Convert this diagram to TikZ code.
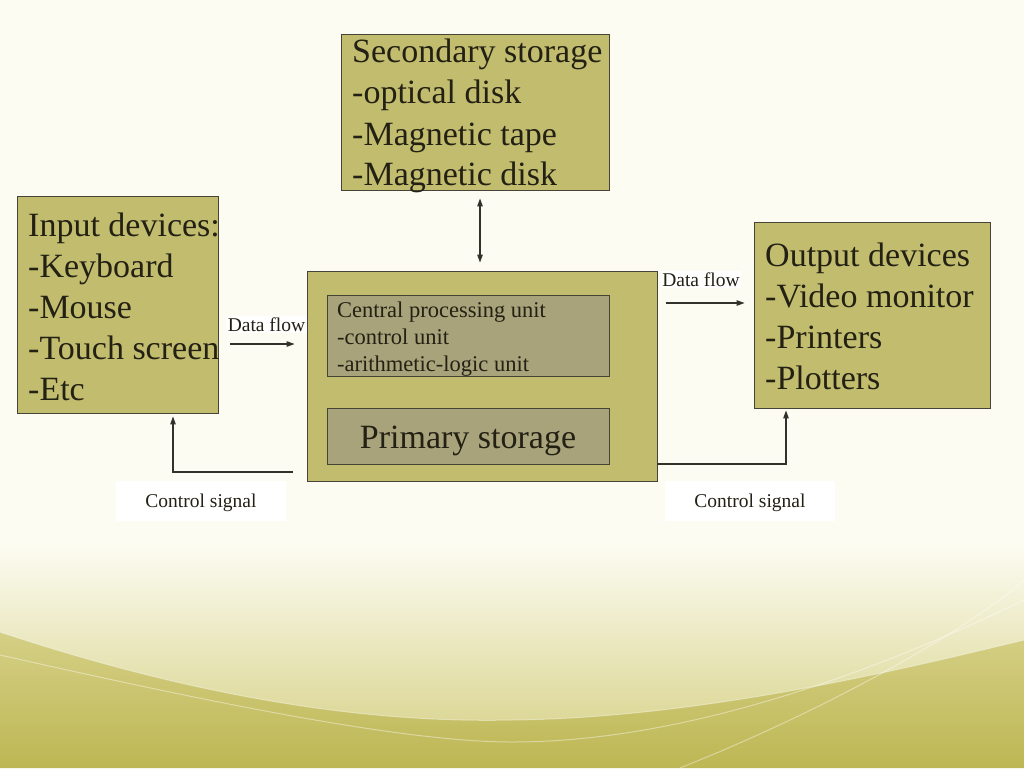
\documentclass[tikz,border=0pt]{standalone}
\usepackage{fontspec}
\setmainfont{Liberation Serif}
\usetikzlibrary{arrows.meta,calc}
\definecolor{crm}{RGB}{252,252,242}
\definecolor{olvbg}{RGB}{189,183,84}
\definecolor{midolv}{RGB}{213,207,134}
\definecolor{lightolv}{RGB}{220,215,150}
\definecolor{boxfill}{RGB}{194,188,110}
\definecolor{innerfill}{RGB}{168,163,122}
\definecolor{edge}{RGB}{70,68,55}
\definecolor{txtc}{RGB}{35,32,20}
\definecolor{arrc}{RGB}{50,50,45}
\begin{document}
\begin{tikzpicture}[x=1pt,y=-1pt,
  box/.style={draw=edge, line width=0.9pt, fill=boxfill, inner sep=0pt},
  innerbox/.style={draw=edge, line width=0.9pt, fill=innerfill, inner sep=0pt},
  bigtxt/.style={text=txtc, inner sep=0pt, anchor=base west, font=\fontsize{34}{41}\selectfont},
  midtxt/.style={text=txtc, inner sep=0pt, anchor=base west, font=\fontsize{22.5}{27}\selectfont},
  smalltxt/.style={text=txtc, font=\fontsize{19.5}{23}\selectfont},
  bgline/.style={white, opacity=0.4, line width=1pt},
  arr/.style={draw=arrc, line width=1.1pt, -{Triangle[length=8pt,width=5.5pt]}},
  darr/.style={draw=arrc, line width=1.1pt, {Triangle[length=8pt,width=5.5pt]}-{Triangle[length=8pt,width=5.5pt]}}
]
\useasboundingbox (0,0) rectangle (1024,768);
% background
\fill[crm] (0,0) rectangle (1024,768);
\shade[top color=crm, bottom color=lightolv] (0,545) rectangle (1024,725);
\shade[top color=midolv, bottom color=olvbg] (0,632) .. controls (250,715) and (420,722) .. (512,720) .. controls (700,718) and (900,670) .. (1024,640) -- (1024,768) -- (0,768) -- cycle;
\draw[bgline] (0,632) .. controls (250,715) and (420,722) .. (512,720) .. controls (700,718) and (900,670) .. (1024,640);
\draw[bgline] (0,655) .. controls (200,700) and (400,742) .. (512,742) .. controls (700,742) and (900,660) .. (1024,600);
\draw[bgline] (680,768) .. controls (850,700) and (980,620) .. (1024,580);

% boxes
\node[box, minimum width=268pt, minimum height=156pt] (sec) at (475,112) {};
\node[box, minimum width=201pt, minimum height=217pt] (inp) at (117.5,304.5) {};
\node[box, minimum width=236pt, minimum height=186pt] (out) at (872,315) {};
\node[box, minimum width=350pt, minimum height=210pt] (main) at (482,376) {};
\node[innerbox, minimum width=282pt, minimum height=81pt] (cpu) at (468,335.5) {};
\node[innerbox, minimum width=282pt, minimum height=56pt] (prim) at (468,436) {};

% texts
\node[bigtxt] (sect) at (352,63) {\parbox[t]{320pt}{\raggedright Secondary storage\\-optical disk\\-Magnetic tape\\-Magnetic disk}};
\node[bigtxt] (inpt) at (28,236) {\parbox[t]{320pt}{\raggedright Input devices:\\-Keyboard\\-Mouse\\-Touch screen\\-Etc}};
\node[bigtxt] (outt) at (765,266) {\parbox[t]{320pt}{\raggedright Output devices\\-Video monitor\\-Printers\\-Plotters}};
\node[midtxt] (cput) at (337,317) {\parbox[t]{320pt}{\raggedright Central processing unit\\-control unit\\-arithmetic-logic unit}};
\node[text=txtc, inner sep=0pt, anchor=base, font=\fontsize{34}{41}\selectfont] (primt) at (468,448) {Primary storage};

% connectors
\coordinate (sx) at (480,0);
\draw[darr, shorten <=8pt, shorten >=8pt] (sec.south -| sx) -- (main.north -| sx);
\coordinate (dl) at (0,344);
\draw[arr, shorten <=12pt, shorten >=12pt] (inp.east |- dl) -- (main.west |- dl);
\coordinate (dr) at (0,303);
\draw[arr, shorten <=9pt, shorten >=9pt] (main.east |- dr) -- (out.west |- dr);
\coordinate (cl) at (173,472);
\draw[arr, shorten <=14pt, shorten >=3pt] (main.west |- cl) -| (inp.south -| cl);
\coordinate (cr) at (786,464);
\draw[arr, shorten >=2pt] (main.east |- cr) -| (out.south -| cr);

% labels
\node[smalltxt, fill=white, inner sep=1.5pt, anchor=base] (dfl) at (266.5,331) {Data flow};
\node[smalltxt, fill=white, inner sep=1.5pt, anchor=base] (dfr) at (701,286) {Data flow};
\node[smalltxt, fill=white, minimum width=170pt, minimum height=40pt, inner sep=0pt, text height=13pt, text depth=0pt] (csl) at (201,501) {Control signal};
\node[smalltxt, fill=white, minimum width=170pt, minimum height=40pt, inner sep=0pt, text height=13pt, text depth=0pt] (csr) at (750,501) {Control signal};
\end{tikzpicture}
\end{document}
